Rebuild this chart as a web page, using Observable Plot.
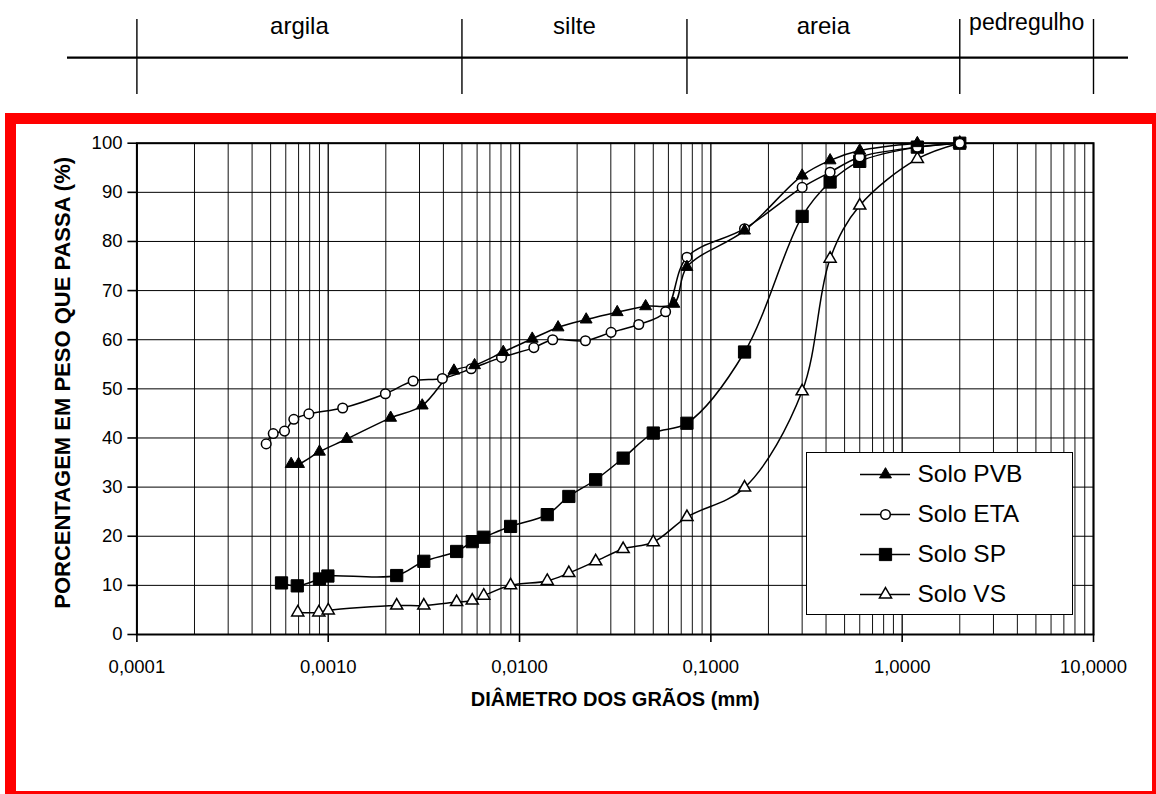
<!DOCTYPE html>
<html>
<head>
<meta charset="utf-8">
<script src="https://cdn.jsdelivr.net/npm/d3@7"></script>
<script src="https://cdn.jsdelivr.net/npm/@observablehq/plot@0.6"></script>
<style>
  html, body { margin: 0; padding: 0; background: #fff; }
  body { width: 1156px; height: 794px; overflow: hidden; position: relative; }
  #band { position: absolute; left: 0; top: 0; }
  #chart { position: absolute; left: 0; top: 113px; }
  #legend { position: absolute; left: 806px; top: 452px; width: 267px; height: 163px;
            border: 1px solid #000; background: #fff; box-sizing: border-box; }
  #frame { position: absolute; left: 5px; top: 113px; width: 1158px; height: 689px;
           border: 11px solid #ff0000; box-sizing: border-box; pointer-events: none; }
</style>
</head>
<body>
<div id="band"></div>
<div id="chart"></div>
<div id="legend"></div>
<div id="frame"></div>
<script>
const font = "'Liberation Sans', Arial, Helvetica, sans-serif";

// Soil fractions and their grain-size limits (mm)
const fractionNames = ["argila", "silte", "areia", "pedregulho"];
const fractionLimits = [0.0001, 0.005, 0.075, 2, 10];

// Grain size distribution curves: diameter (mm) and percent passing
const pvbDiam = [0.00064, 0.00070, 0.00090, 0.00125, 0.00212, 0.0031, 0.00454, 0.00582, 0.00822, 0.01165,
                 0.0159, 0.0223, 0.0324, 0.0456, 0.0641, 0.075, 0.15, 0.3, 0.42, 0.6, 1.2];
const pvbPass = [34.7, 34.7, 37.2, 39.8, 44.1, 46.6, 53.7, 54.8, 57.5, 60.2,
                 62.5, 64.1, 65.6, 66.8, 67.3, 74.8, 82.2, 93.4, 96.5, 98.5, 100];

const etaDiam = [0.000474, 0.000516, 0.000591, 0.000661, 0.000792, 0.00119, 0.00199, 0.00278, 0.00395, 0.00559,
                 0.00805, 0.01188, 0.0149, 0.0221, 0.0301, 0.042, 0.058, 0.075, 0.15, 0.3, 0.42, 0.6, 1.2, 2.0];
const etaPass = [38.8, 40.9, 41.4, 43.8, 44.9, 46.1, 49.0, 51.6, 52.1, 54.1,
                 56.4, 58.4, 60.0, 59.8, 61.5, 63.1, 65.7, 76.8, 82.6, 91.0, 94.1, 97.2, 99.2, 100];

const spDiam = [0.00057, 0.000689, 0.0009, 0.000996, 0.00228, 0.00316, 0.00469, 0.00566, 0.0065, 0.00898, 0.01396,
                0.0181, 0.025, 0.0348, 0.05, 0.075, 0.15, 0.3, 0.42, 0.6, 1.2, 2.0];
const spPass = [10.5, 9.9, 11.3, 11.9, 12.0, 14.9, 16.9, 18.9, 19.8, 22.0, 24.4,
                28.1, 31.5, 35.9, 41.0, 43.0, 57.5, 85.1, 92.1, 96.3, 99.2, 100];

const vsDiam = [0.000693, 0.000893, 0.001, 0.00228, 0.00316, 0.00469, 0.00566, 0.0065, 0.00898, 0.01396,
                0.0181, 0.025, 0.0348, 0.05, 0.075, 0.15, 0.3, 0.42, 0.6, 1.2, 2.0];
const vsPass = [4.5, 4.5, 4.9, 5.9, 5.9, 6.6, 6.9, 7.9, 10.0, 10.9,
                12.5, 14.9, 17.4, 18.8, 23.9, 29.9, 49.5, 76.5, 87.3, 96.8, 100];

const seriesNames = ["Solo PVB", "Solo ETA", "Solo SP", "Solo VS"];
const seriesDiam = [pvbDiam, etaDiam, spDiam, vsDiam];
const seriesPass = [pvbPass, etaPass, spPass, vsPass];
const seriesSymbols = ["triangle", "circle", "square", "triangle"];
const seriesFills = ["black", "white", "black", "white"];
const seriesRadius = [4.4, 4.8, 6.9, 4.5];

// Axes
const xTicks = [0.0001, 0.001, 0.01, 0.1, 1, 10];
const xTickLabels = ["0,0001", "0,0010", "0,0100", "0,1000", "1,0000", "10,0000"];
const yTicks = [0, 10, 20, 30, 40, 50, 60, 70, 80, 90, 100];
const xTitle = "DIÂMETRO DOS GRÃOS (mm)";
const yTitle = "PORCENTAGEM EM PESO QUE PASSA (%)";

// log-cycle grid: 2..9 in every decade
const xGridMinor = [];
for (let e = -4; e <= 0; e++) for (let m = 2; m <= 9; m++) xGridMinor.push(m * Math.pow(10, e));

const rows = seriesNames.map((name, k) =>
  seriesDiam[k].map((d, i) => ({name, d, p: seriesPass[k][i]})));

// Fraction band above the chart
const band = Plot.plot({
  width: 1156, height: 113,
  marginLeft: 67, marginRight: 28, marginTop: 19, marginBottom: 19,
  style: {fontFamily: font, background: "transparent", color: "black"},
  x: {type: "log", domain: [1e-4, 10], range: [136.4, 1093], axis: null},
  y: {domain: [0, 1], axis: null},
  marks: [
    Plot.ruleY([0.493], {stroke: "black", strokeWidth: 2.2}),
    Plot.ruleX(fractionLimits, {y1: 0, y2: 1, stroke: "black", strokeWidth: 1.4}),
    Plot.text(fractionNames, {
      x: (d, i) => Math.sqrt(fractionLimits[i] * fractionLimits[i + 1]),
      y: (d, i) => i === 3 ? 0.965 : 0.915,
      text: d => d,
      fontSize: (d, i) => i === 3 ? 23 : 24,
      fill: "black"
    })
  ]
});
document.getElementById("band").append(band);

const lineMarks = rows.map(r => Plot.line(r, {x: "d", y: "p", curve: "catmull-rom", stroke: "black", strokeWidth: 1.5}));
const dotMarks = rows.map((r, k) => Plot.dot(r, {
  x: "d", y: "p", symbol: seriesSymbols[k], r: seriesRadius[k],
  fill: seriesFills[k], stroke: "black", strokeWidth: seriesFills[k] === "white" ? 1.5 : 1
}));

const chart = Plot.plot({
  width: 1156, height: 681,
  marginLeft: 136.4, marginRight: 63, marginTop: 29.7, marginBottom: 160,
  style: {fontFamily: font, background: "transparent", color: "black"},
  x: {type: "log", domain: [1e-4, 10]},
  y: {domain: [0, 100]},
  marks: [
    Plot.ruleX(xGridMinor, {stroke: "#111", strokeWidth: 1}),
    Plot.ruleX(xTicks, {stroke: "#000", strokeWidth: 1.3}),
    Plot.ruleY(yTicks, {stroke: "#000", strokeWidth: 1}),
    Plot.frame({stroke: "black", strokeWidth: 2}),
    Plot.axisY({ticks: yTicks, tickSize: 9, tickPadding: 5.4, fontSize: 18.5, label: null,
                strokeWidth: 1.6, tickFormat: d => String(d)}),
    Plot.axisX({ticks: xTicks, tickSize: 8, tickPadding: 17, fontSize: 18.5, label: null,
                strokeWidth: 1.6, tickFormat: d => xTickLabels[xTicks.indexOf(d)]}),
    ...lineMarks,
    ...dotMarks.slice().reverse(),
    Plot.text([xTitle], {text: d => d, frameAnchor: "bottom", dy: 71.6, fontSize: 20, fontWeight: "bold", fill: "black"}),
    Plot.text([yTitle], {text: d => d, frameAnchor: "left", textAnchor: "middle", rotate: -90, dx: -73.5, dy: -6,
                         fontSize: 22, fontWeight: "bold", fill: "black"})
  ]
});
document.getElementById("chart").append(chart);

// Legend box
const legend = Plot.plot({
  width: 265, height: 161, margin: 0,
  style: {fontFamily: font, background: "white", color: "black"},
  x: {domain: [0, 265], range: [0, 265], axis: null},
  y: {type: "point", domain: seriesNames, range: [20, 141], padding: 0, axis: null},
  marks: [
    Plot.ruleY(seriesNames, {y: d => d, x1: 53, x2: 103, stroke: "black", strokeWidth: 1.5}),
    ...seriesNames.map((n, k) => Plot.dot([n], {
      x: 78, y: d => d, symbol: seriesSymbols[k], r: seriesRadius[k],
      fill: seriesFills[k], stroke: "black", strokeWidth: seriesFills[k] === "white" ? 1.5 : 1
    })),
    Plot.text(seriesNames, {x: 110, y: d => d, text: d => d, textAnchor: "start", fontSize: 24.5, fill: "black"})
  ]
});
document.getElementById("legend").append(legend);
</script>
</body>
</html>
